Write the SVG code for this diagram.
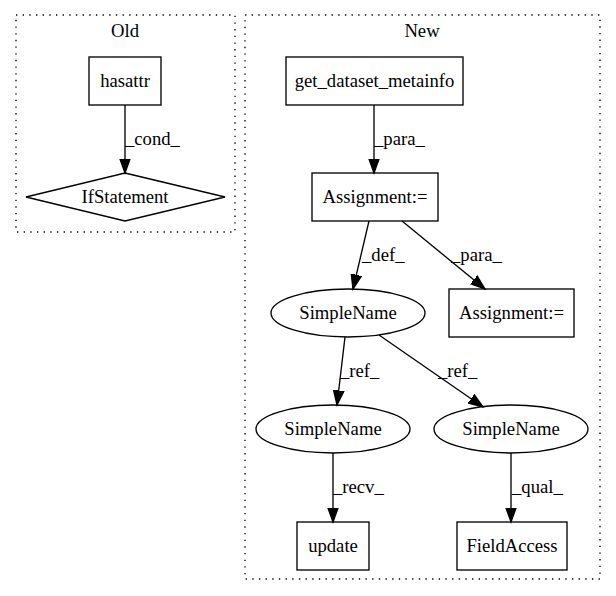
<svg xmlns="http://www.w3.org/2000/svg" width="616" height="596" viewBox="0 0 616 596">
<style>
text{font-family:"Liberation Serif","Times New Roman",serif;font-size:18.67px;fill:#000}
.c{text-anchor:middle}
.n{fill:#fff;stroke:#000;stroke-width:1.33}
.cl{fill:none;stroke:#000;stroke-width:1.33;stroke-dasharray:1.33,5.33}
.e{fill:none;stroke:#000;stroke-width:1.33;marker-end:url(#ah)}
</style>
<defs>
<marker id="ah" markerUnits="userSpaceOnUse" markerWidth="18" markerHeight="14" refX="14.5" refY="0" viewBox="0 -7 18 14" orient="auto">
<path d="M0,-5.2 L14.5,0 L0,5.2 z" fill="#000" stroke="#000" stroke-width="1.33"/>
</marker>
</defs>
<rect width="616" height="596" fill="#fff"/>
<g id="cluster_old">
<rect class="cl" x="16" y="15" width="219" height="217"/>
<text class="c" x="125" y="37">Old</text>
</g>
<g id="cluster_new">
<rect class="cl" x="245" y="15" width="355" height="564"/>
<text class="c" x="422" y="37">New</text>
</g>
<g id="hasattr">
<rect class="n" x="89" y="57" width="72" height="48"/>
<text class="c" x="125" y="87">hasattr</text>
</g>
<g id="ifstatement">
<polygon class="n" points="125,173 225,197 125,221 26,197"/>
<text class="c" x="125" y="203">IfStatement</text>
</g>
<g id="get_dataset_metainfo">
<rect class="n" x="286" y="57" width="177" height="48"/>
<text class="c" x="374.5" y="87">get_dataset_metainfo</text>
</g>
<g id="assignment1">
<rect class="n" x="312" y="173" width="126" height="48"/>
<text class="c" x="375" y="203">Assignment:=</text>
</g>
<g id="simplename1">
<ellipse class="n" cx="348" cy="313" rx="77" ry="24"/>
<text class="c" x="348" y="319">SimpleName</text>
</g>
<g id="assignment2">
<rect class="n" x="449" y="289" width="125" height="48"/>
<text class="c" x="511.5" y="319">Assignment:=</text>
</g>
<g id="simplename2">
<ellipse class="n" cx="333" cy="429" rx="77" ry="24"/>
<text class="c" x="333" y="435">SimpleName</text>
</g>
<g id="simplename3">
<ellipse class="n" cx="511" cy="429" rx="77" ry="24"/>
<text class="c" x="511" y="435">SimpleName</text>
</g>
<g id="update">
<rect class="n" x="297" y="522" width="72" height="48"/>
<text class="c" x="333" y="552">update</text>
</g>
<g id="fieldaccess">
<rect class="n" x="457" y="522" width="110" height="48"/>
<text class="c" x="512" y="552">FieldAccess</text>
</g>
<g id="edges">
<path class="e" d="M125,105 L125,173"/>
<text x="125" y="145">_cond_</text>
<path class="e" d="M374,105 L374,173"/>
<text x="374" y="145">_para_</text>
<path class="e" d="M369,221 L353,289"/>
<text x="362" y="261">_def_</text>
<path class="e" d="M402,221 L485,289"/>
<text x="451" y="261">_para_</text>
<path class="e" d="M345,337 L337,405"/>
<text x="340" y="377">_ref_</text>
<path class="e" d="M379,335 L483,407"/>
<text x="438" y="377">_ref_</text>
<path class="e" d="M333,453 L333,522"/>
<text x="333" y="493">_recv_</text>
<path class="e" d="M511,453 L511,522"/>
<text x="512" y="493">_qual_</text>
</g>
</svg>
